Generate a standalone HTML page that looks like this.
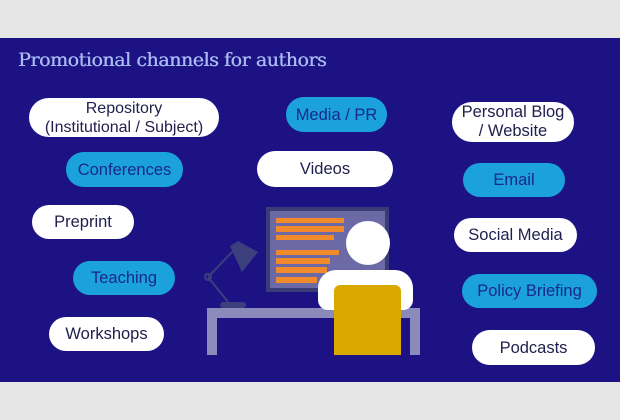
<!DOCTYPE html>
<html><head><meta charset="utf-8"><style>
*{margin:0;padding:0;box-sizing:border-box}
body{width:620px;height:420px;background:#e6e6e6;position:relative;overflow:hidden;font-family:"Liberation Sans",sans-serif}
#panel{position:absolute;left:0;top:38px;width:620px;height:344px;background:#1c1283}
.t{position:absolute;left:18px;top:49px;font-family:"DejaVu Serif","Liberation Serif",serif;font-size:19px;color:#a8bbf2;letter-spacing:-0.45px;text-shadow:0.4px 0 0 #a8bbf2}
.p{position:absolute;border-radius:18px;display:flex;align-items:center;justify-content:center;text-align:center;font-size:16.5px;line-height:18px;color:#22204e}
.w{background:#fff}
.c{background:#1ba2dd;color:#1a2888}
.a{position:absolute}
</style></head><body>
<div id="panel"></div>
<div class="t">Promotional channels for authors</div>

<div class="p w" style="left:29px;top:98px;width:190px;height:39px;border-radius:20px;font-size:16px;line-height:19px">Repository<br>(Institutional / Subject)</div>
<div class="p c" style="left:286px;top:97px;width:101px;height:35px">Media / PR</div>
<div class="p w" style="left:452px;top:102px;width:122px;height:40px;border-radius:20px;line-height:19px">Personal Blog<br>/ Website</div>
<div class="p c" style="left:66px;top:152px;width:117px;height:35px">Conferences</div>
<div class="p w" style="left:257px;top:151px;width:136px;height:36px">Videos</div>
<div class="p c" style="left:463px;top:163px;width:102px;height:34px">Email</div>
<div class="p w" style="left:32px;top:205px;width:102px;height:34px">Preprint</div>
<div class="p w" style="left:454px;top:218px;width:123px;height:34px">Social Media</div>
<div class="p c" style="left:73px;top:261px;width:102px;height:34px">Teaching</div>
<div class="p c" style="left:462px;top:274px;width:135px;height:34px">Policy Briefing</div>
<div class="p w" style="left:49px;top:317px;width:115px;height:34px">Workshops</div>
<div class="p w" style="left:472px;top:330px;width:123px;height:35px">Podcasts</div>

<!-- lamp -->
<svg class="a" style="left:190px;top:230px" width="80" height="90">
<g stroke="#3c3f7d" stroke-width="2" fill="none">
<line x1="18" y1="47" x2="44" y2="20"/><line x1="18" y1="47" x2="38" y2="72"/>
<circle cx="18" cy="47" r="3"/></g>
<path d="M40 16 L48 11 L68 22 L52 42 Z" fill="#3c3f7d"/>
<rect x="30" y="72" width="26" height="6" rx="3" fill="#3c3f7d"/>
</svg>
<!-- monitor -->
<div class="a" style="left:266px;top:207px;width:123px;height:85px;background:#3a3c78"></div>
<div class="a" style="left:270px;top:211px;width:115px;height:77px;background:#6b6aa6"></div>
<div class="a" style="left:276px;top:218px;width:68px;height:5px;background:#f08a2a"></div>
<div class="a" style="left:276px;top:226px;width:68px;height:6px;background:#f08a2a"></div>
<div class="a" style="left:276px;top:235px;width:58px;height:5px;background:#f08a2a"></div>
<div class="a" style="left:276px;top:250px;width:63px;height:5px;background:#f08a2a"></div>
<div class="a" style="left:276px;top:258px;width:54px;height:6px;background:#f08a2a"></div>
<div class="a" style="left:276px;top:267px;width:51px;height:6px;background:#f08a2a"></div>
<div class="a" style="left:276px;top:277px;width:41px;height:6px;background:#f08a2a"></div>
<!-- desk -->
<div class="a" style="left:207px;top:308px;width:213px;height:10px;background:#8b8bbb"></div>
<div class="a" style="left:207px;top:308px;width:10px;height:47px;background:#8b8bbb"></div>
<div class="a" style="left:410px;top:308px;width:10px;height:47px;background:#8b8bbb"></div>
<!-- person -->
<div class="a" style="left:346px;top:221px;width:44px;height:44px;border-radius:50%;background:#fff"></div>
<div class="a" style="left:318px;top:270px;width:95px;height:40px;border-radius:18px 18px 10px 10px;background:#fff"></div>
<div class="a" style="left:334px;top:285px;width:67px;height:70px;border-radius:6px 6px 0 0;background:#dba800"></div>
</body></html>
